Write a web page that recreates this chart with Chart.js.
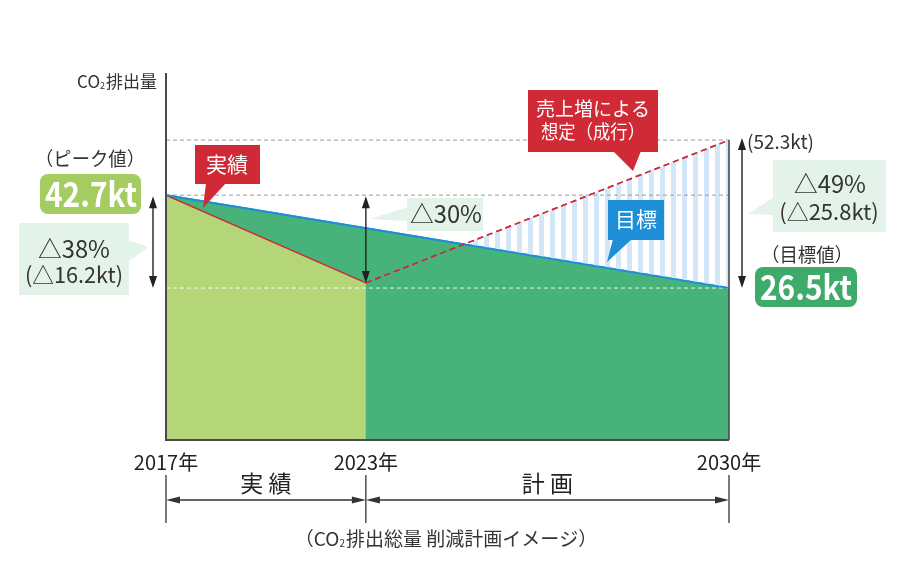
<!DOCTYPE html>
<html>
<head>
<meta charset="utf-8">
<script src="https://cdn.jsdelivr.net/npm/chart.js@4/dist/chart.umd.min.js"></script>
<style>
html,body{margin:0;padding:0;background:#fff;}
#c{display:block;}
</style>
</head>
<body>
<canvas id="c" width="900" height="562"></canvas>
<script>
// ---- data ----
const years = [2017, 2023, 2030];
const yearLabels = ['2017年', '2023年', '2030年'];
const actualValues = [42.7, 27.4];          // 2017, 2023 (実績)
const targetValues = [42.7, 26.5];          // 2017, 2030 (目標)
const projectionValues = [27.4, 52.3];      // 2023, 2030 (売上増による想定・成行)
const refLevels = [52.3, 42.7, 26.5];
const periodLabels = ['実 績', '計 画'];
const peakLabel = '42.7kt';
const goalLabel = '26.5kt';
const projLabel = '(52.3kt)';
const cut1 = ['△38%', '(△16.2kt)'];
const cut2 = ['△30%'];
const cut3 = ['△49%', '(△25.8kt)'];
const yAxisTitle = ['CO', '2', '排出量'];
const caption = ['（CO', '2', '排出総量 削減計画イメージ）'];

const FONT = '"Noto Sans CJK JP", "Noto Sans", sans-serif';
const C = {
  darkGreen: '#47b27a', lightGreen: '#b5d678', red: '#cf2a36', blue: '#1e8fd6',
  stripe: '#d3e7f8', pale: '#e3f3ea', pillLight: '#a5cc60', pillDark: '#3fab6b', ink: '#333'
};

// piecewise x scale: 実績 period and 計画 period get their own widths
const periodShare = 0.355;
class PeriodScale extends Chart.LinearScale {
  getPixelForValue(v) {
    if (v === null || v === undefined || isNaN(v)) return NaN;
    const [a, b, c] = years;
    const d = v <= b ? (v - a) / (b - a) * periodShare : periodShare + (v - b) / (c - b) * (1 - periodShare);
    return this.getPixelForDecimal(d);
  }
  getValueForPixel(p) {
    const [a, b, c] = years;
    const d = this.getDecimalForPixel(p);
    return d <= periodShare ? a + d / periodShare * (b - a) : b + (d - periodShare) / (1 - periodShare) * (c - b);
  }
}
PeriodScale.id = 'period';
PeriodScale.defaults = Chart.LinearScale.defaults;
Chart.register(PeriodScale);

// stripe pattern
const pc = document.createElement('canvas');
pc.width = 11; pc.height = 4;
const pctx = pc.getContext('2d');
pctx.fillStyle = C.stripe; pctx.fillRect(0, 0, 5, 4);
const ctx0 = document.getElementById('c').getContext('2d');
const stripePattern = ctx0.createPattern(pc, 'repeat');

const pts = (xs, ys) => xs.map((x, i) => ({ x, y: ys[i] }));

function txt(ctx, s, x, y, size, opts = {}) {
  ctx.save();
  ctx.font = (opts.weight || '') + ' ' + size + 'px ' + FONT;
  ctx.fillStyle = opts.color || C.ink;
  ctx.textAlign = opts.align || 'center';
  ctx.textBaseline = 'middle';
  if (opts.maxWidth) ctx.fillText(s, x, y, opts.maxWidth); else ctx.fillText(s, x, y);
  ctx.restore();
}
function poly(ctx, p, color) {
  ctx.beginPath(); ctx.moveTo(p[0][0], p[0][1]);
  for (let i = 1; i < p.length; i++) ctx.lineTo(p[i][0], p[i][1]);
  ctx.closePath(); ctx.fillStyle = color; ctx.fill();
}
function arrowV(ctx, x, y1, y2) {
  const h = 12, w = 4;
  ctx.save(); ctx.strokeStyle = '#222'; ctx.lineWidth = 1.4;
  ctx.beginPath(); ctx.moveTo(x, y1 + h - 2); ctx.lineTo(x, y2 - h + 2); ctx.stroke();
  poly(ctx, [[x, y1], [x - w, y1 + h], [x + w, y1 + h]], '#222');
  poly(ctx, [[x, y2], [x - w, y2 - h], [x + w, y2 - h]], '#222');
  ctx.restore();
}
function arrowH(ctx, x1, x2, y) {
  const h = 14, w = 3.5;
  ctx.save(); ctx.strokeStyle = '#333'; ctx.lineWidth = 1.3;
  ctx.beginPath(); ctx.moveTo(x1 + h - 2, y); ctx.lineTo(x2 - h + 2, y); ctx.stroke();
  poly(ctx, [[x1, y], [x1 + h, y - w], [x1 + h, y + w]], '#333');
  poly(ctx, [[x2, y], [x2 - h, y - w], [x2 - h, y + w]], '#333');
  ctx.restore();
}
function subText(ctx, parts, x, y, size, align) {
  ctx.save();
  ctx.textBaseline = 'alphabetic'; ctx.fillStyle = C.ink;
  const f1 = size + 'px ' + FONT, f2 = Math.round(size * 0.55) + 'px ' + FONT;
  ctx.font = f1; const w0 = ctx.measureText(parts[0]).width, w2 = ctx.measureText(parts[2]).width;
  ctx.font = f2; const w1 = ctx.measureText(parts[1]).width + 1;
  const total = w0 + w1 + w2;
  let sx = align === 'right' ? x - total : x - total / 2;
  const base = y + size * 0.36;
  ctx.textAlign = 'left';
  ctx.font = f1; ctx.fillText(parts[0], sx, base);
  ctx.font = f2; ctx.fillText(parts[1], sx + w0, base + 1);
  ctx.font = f1; ctx.fillText(parts[2], sx + w0 + w1, base);
  ctx.restore();
}

const overlay = {
  id: 'overlay',
  afterDatasetsDraw(chart) {
    const ctx = chart.ctx, xs = chart.scales.x, ys = chart.scales.y, a = chart.chartArea;
    const X = v => xs.getPixelForValue(v), Y = v => ys.getPixelForValue(v);
    ctx.save();
    // axes
    ctx.strokeStyle = '#4a4a4a'; ctx.lineWidth = 2;
    ctx.beginPath(); ctx.moveTo(a.left, a.top); ctx.lineTo(a.left, a.bottom); ctx.lineTo(a.right, a.bottom); ctx.stroke();
    ctx.lineWidth = 1.6;
    ctx.beginPath(); ctx.moveTo(X(years[2]), Y(refLevels[0])); ctx.lineTo(X(years[2]), a.bottom); ctx.stroke();
    subText(ctx, yAxisTitle, a.left - 9, 82, 17, 'right');

    // x tick labels
    years.forEach((yr, i) => txt(ctx, yearLabels[i], X(yr), 462, 20, { color: '#222', maxWidth: 66 }));
    // period bracket
    ctx.strokeStyle = '#333'; ctx.lineWidth = 1.3;
    years.forEach(yr => { ctx.beginPath(); ctx.moveTo(X(yr), 475); ctx.lineTo(X(yr), 523); ctx.stroke(); });
    arrowH(ctx, X(years[0]), X(years[1]), 500);
    arrowH(ctx, X(years[1]), X(years[2]), 500);
    txt(ctx, periodLabels[0], (X(years[0]) + X(years[1])) / 2, 483, 23, { color: '#222' });
    txt(ctx, periodLabels[1], (X(years[1]) + X(years[2])) / 2, 483, 23, { color: '#222' });
    subText(ctx, caption, 446, 539, 19, 'center');

    // peak annotation
    txt(ctx, '（ピーク値）', 90, 159, 19, { maxWidth: 110 });
    ctx.beginPath(); ctx.roundRect(40, 174, 101, 40, 8); ctx.fillStyle = C.pillLight; ctx.fill();
    txt(ctx, peakLabel, 91, 194, 34, { weight: 'bold', color: '#fff', maxWidth: 92 });
    ctx.fillStyle = C.pale; ctx.fillRect(19, 223, 110, 72);
    poly(ctx, [[128, 240], [148, 247], [128, 262]], C.pale);
    txt(ctx, cut1[0], 74, 249, 24, { maxWidth: 72 });
    txt(ctx, cut1[1], 74, 275, 22, { maxWidth: 98 });
    arrowV(ctx, 153, Y(actualValues[0]) + 1, Y(targetValues[1]));

    // 実績 callout
    ctx.fillStyle = C.red; ctx.fillRect(195, 145, 65, 39);
    poly(ctx, [[206, 183], [226, 183], [203, 208]], C.red);
    txt(ctx, '実績', 227, 164, 21, { color: '#fff' });

    // △30%
    arrowV(ctx, X(years[1]), Y(actualValues[0]) + 1, Y(actualValues[1]));
    ctx.fillStyle = C.pale; ctx.fillRect(407, 198, 76, 33);
    poly(ctx, [[408, 207], [370, 219], [408, 221]], C.pale);
    txt(ctx, cut2[0], 446, 214, 24, { maxWidth: 72 });

    // 売上増による想定（成行）
    ctx.fillStyle = C.red; ctx.fillRect(528, 90, 130, 62);
    poly(ctx, [[613, 151], [641, 151], [633, 171]], C.red);
    txt(ctx, '売上増による', 593, 109, 19, { color: '#fff', maxWidth: 116 });
    txt(ctx, '想定（成行）', 593, 132, 19, { color: '#fff', maxWidth: 104 });

    // 目標
    ctx.fillStyle = C.blue; ctx.fillRect(608, 200, 56, 40);
    poly(ctx, [[613, 239], [632, 239], [607, 262]], C.blue);
    txt(ctx, '目標', 636, 219, 21, { color: '#fff' });

    // right side
    txt(ctx, projLabel, 747, 142, 19, { align: 'left', maxWidth: 76 });
    arrowV(ctx, 742, Y(projectionValues[1]) - 2, Y(targetValues[1]));
    ctx.fillStyle = C.pale; ctx.fillRect(773, 160, 113, 72);
    poly(ctx, [[774, 197], [748, 214], [774, 215]], C.pale);
    txt(ctx, cut3[0], 830, 184, 24, { maxWidth: 72 });
    txt(ctx, cut3[1], 829, 212, 22, { maxWidth: 100 });
    txt(ctx, '（目標値）', 807, 255, 19, { maxWidth: 92 });
    ctx.beginPath(); ctx.roundRect(755, 267, 102, 40, 8); ctx.fillStyle = C.pillDark; ctx.fill();
    txt(ctx, goalLabel, 806, 287, 34, { weight: 'bold', color: '#fff', maxWidth: 92 });
    ctx.restore();
  }
};

new Chart(document.getElementById('c'), {
  type: 'line',
  data: {
    datasets: [
      { label: '目標', data: pts([years[0], years[2]], targetValues), borderColor: C.blue, borderWidth: 2,
        backgroundColor: C.darkGreen, fill: 'origin', order: 6 },
      { label: '実績', data: pts([years[0], years[1]], actualValues), borderColor: C.red, borderWidth: 1.5,
        backgroundColor: C.lightGreen, fill: 'origin', order: 5 },
      { label: '想定', data: pts([years[1], years[2]], projectionValues), borderColor: C.red, borderWidth: 1.5,
        borderDash: [6, 4], fill: { target: 0, above: stripePattern, below: 'rgba(0,0,0,0)' }, order: 4 },
      { label: 'ref1', data: pts([years[0], years[2]], [refLevels[0], refLevels[0]]), borderColor: '#9a9a9a',
        borderWidth: 1, borderDash: [4, 3], fill: false, order: 3 },
      { label: 'ref2', data: pts([years[0], years[2]], [refLevels[1], refLevels[1]]), borderColor: '#9a9a9a',
        borderWidth: 1, borderDash: [4, 3], fill: false, order: 3 },
      { label: 'ref3', data: pts([years[0], years[2]], [refLevels[2], refLevels[2]]), borderColor: 'rgba(255,255,255,0.85)',
        borderWidth: 1, borderDash: [4, 3], fill: false, order: 3 },
      { label: '目標line', data: pts([years[0], years[2]], targetValues), borderColor: C.blue, borderWidth: 1.6,
        fill: false, order: 2 },
      { label: '想定line', data: pts([years[1], years[2]], projectionValues), borderColor: C.red, borderWidth: 1.5,
        borderDash: [6, 4], fill: false, order: 1 }
    ]
  },
  options: {
    responsive: false, animation: false, events: [],
    layout: { padding: { left: 166, right: 171, top: 73, bottom: 122 } },
    elements: { point: { radius: 0 }, line: { tension: 0 } },
    plugins: { legend: { display: false }, tooltip: { enabled: false } },
    scales: {
      x: { type: 'period', min: years[0], max: years[2], display: false },
      y: { type: 'linear', min: 0, max: 64, display: false }
    }
  },
  plugins: [overlay]
});
</script>
</body>
</html>
